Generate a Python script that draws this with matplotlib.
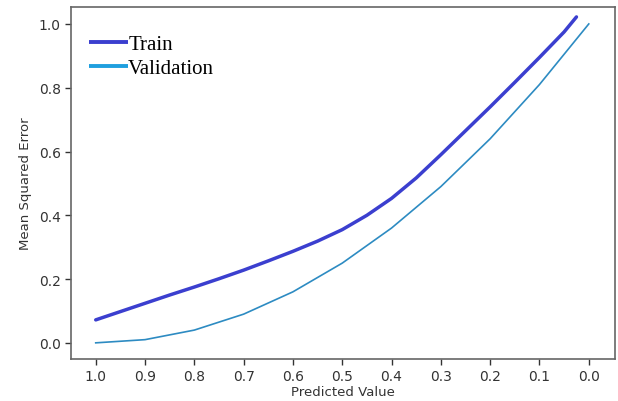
import matplotlib
matplotlib.use("Agg")
import matplotlib.pyplot as plt

# values
train_x = [1.0, 0.95, 0.9, 0.85, 0.8, 0.75, 0.7, 0.65, 0.6, 0.55, 0.5,
           0.45, 0.4, 0.35, 0.3, 0.25, 0.2, 0.15, 0.1, 0.05, 0.025]
train_y = [0.072, 0.098, 0.124, 0.150, 0.175, 0.201, 0.228, 0.257, 0.287, 0.319, 0.355,
           0.400, 0.453, 0.517, 0.590, 0.665, 0.740, 0.817, 0.895, 0.975, 1.022]

val_x = [1.0, 0.9, 0.8, 0.7, 0.6, 0.5, 0.4, 0.3, 0.2, 0.1, 0.0]
val_y = [0.0, 0.01, 0.04, 0.09, 0.16, 0.25, 0.36, 0.49, 0.64, 0.81, 1.0]

x_ticks = [1.0, 0.9, 0.8, 0.7, 0.6, 0.5, 0.4, 0.3, 0.2, 0.1, 0.0]
y_ticks = [0.0, 0.2, 0.4, 0.6, 0.8, 1.0]

fig = plt.figure(figsize=(6.18, 4.02), dpi=100)
ax = fig.add_axes([0.115, 0.105, 0.88, 0.875])

ax.plot(train_x, train_y, color="#3b3fcf", linewidth=2.5, label="Train",
        solid_capstyle="round", solid_joinstyle="round")
ax.plot(val_x, val_y, color="#2d8bc2", linewidth=1.2, label="Validation")

ax.set_xlim(1.05, -0.053)
ax.set_ylim(-0.05, 1.053)
ax.set_xticks(x_ticks)
ax.set_xticklabels([f"{v:.1f}" for v in x_ticks])
ax.set_yticks(y_ticks)
ax.set_yticklabels([f"{v:.1f}" for v in y_ticks])

ax.tick_params(labelsize=10, colors="#333333", width=1.0, length=4)
for s in ax.spines.values():
    s.set_color("#666666")
    s.set_linewidth(1.2)

ax.set_xlabel("Predicted Value", fontsize=9.5, color="#333333", labelpad=1)
ax.set_ylabel("Mean Squared Error", fontsize=9.5, color="#333333", labelpad=5)

leg = ax.legend(loc="upper left", frameon=False, handlelength=1.9, handletextpad=0.0,
                borderaxespad=0.0, labelspacing=0.2, bbox_to_anchor=(0.017, 0.945),
                prop={"family": ["Liberation Serif", "DejaVu Serif"], "size": 15})
for line in leg.get_lines():
    line.set_linewidth(2.8)
    line.set_solid_capstyle("butt")
leg.get_lines()[1].set_color("#1f9fdf")

fig.savefig("out.png", dpi=100)
